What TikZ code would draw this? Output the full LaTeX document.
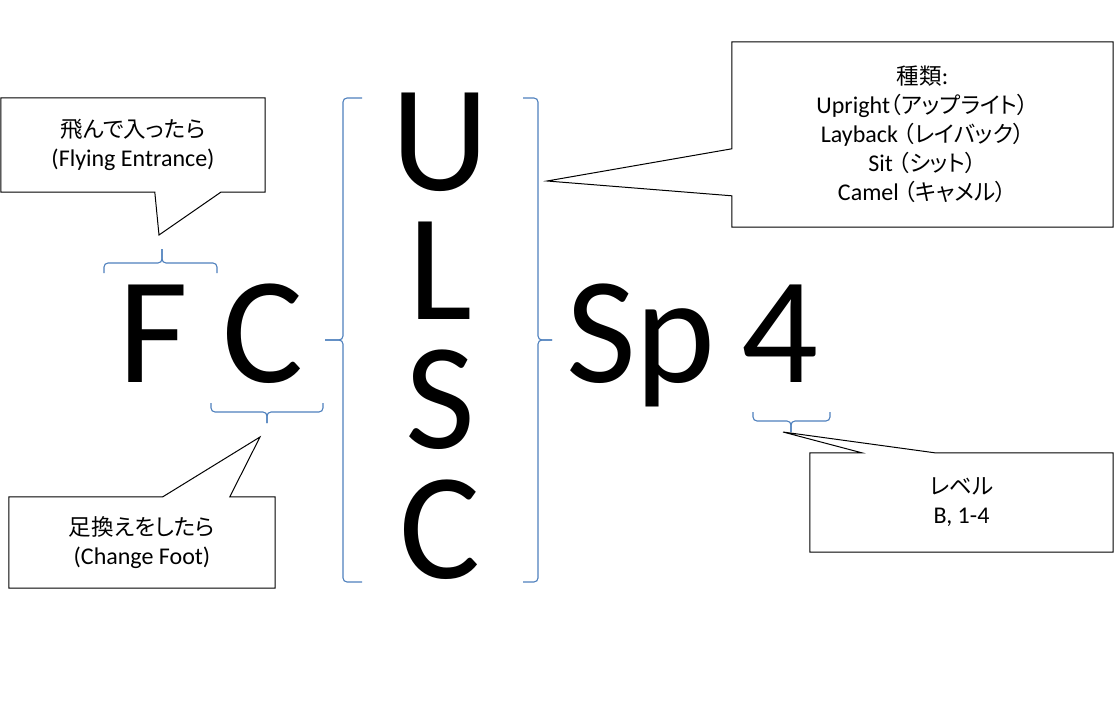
\documentclass[tikz,border=0pt]{standalone}
\usepackage{fontspec}
\setmainfont{Carlito}
\newfontfamily\jpfont[RawFeature=+palt]{Noto Sans CJK JP}
\usetikzlibrary{calc}
\definecolor{bracec}{RGB}{79,129,189}
\newcommand\jtext[1]{{\jpfont\fontsize{22.5}{29}\selectfont #1}}
\begin{document}
\begin{tikzpicture}[x=1pt,y=-1pt,
  brc/.style={draw=bracec, line width=1.1pt, rounded corners=4pt},
  callout/.style={draw=black, line width=1pt, line join=miter},
  cbox/.style={inner sep=0pt, align=center, font=\fontsize{24}{29}\selectfont},
  big/.style={inner sep=0pt, anchor=base, text height=97pt, text depth=0pt,
    font=\fontsize{152}{152}\selectfont}]
\useasboundingbox[fill=white] (0,0) rectangle (1114,709);

% big letters
\node[big] (F) at (153,382) {F};
\node[big] (C) at (263,382) {C};
\node[big] (U) at (440,190) {U};
\node[big] (L) at (440,319) {L};
\node[big] (S) at (440,448) {S};
\node[big] (C2) at (440,578) {C};
\node[big] (Sp) at (641,382) {Sp};
\node[big] (four) at (780,382) {4};

% braces
\draw[brc] (104,273) -- (104,263) -- (162,263) -- (162,249);
\draw[brc] (217,273) -- (217,263) -- (162,263) -- (162,249);
\draw[brc] (211,403) -- (211,412) -- (267,412) -- (267,423);
\draw[brc] (323,403) -- (323,412) -- (267,412) -- (267,423);
\draw[brc] (753,412) -- (753,421) -- (791,421) -- (791,432);
\draw[brc] (830,412) -- (830,421) -- (791,421) -- (791,432);
\draw[brc] (362,98) -- (343,98) -- (343,340) -- (325,340);
\draw[brc] (362,582) -- (343,582) -- (343,340) -- (325,340);
\draw[brc] (523,98) -- (538,98) -- (538,340) -- (552,340);
\draw[brc] (523,582) -- (538,582) -- (538,340) -- (552,340);

% callout tips
\coordinate (tipF) at (159,235);
\coordinate (tipU) at (547,181);
\coordinate (tipC) at (260,437);
\coordinate (tip4) at (783,432);

% callout boxes
\node[cbox, minimum width=264pt, minimum height=94pt] (fe) at (133,145)
  {\jtext{飛んで入ったら}\\(Flying Entrance)};
\node[cbox, minimum width=381pt, minimum height=185pt] (tr) at (922.5,134.5)
  {\jtext{種類}:\\Upright\jtext{（アップライト）}\\Layback \jtext{（レイバック）}\\Sit \jtext{（シット）}\\Camel \jtext{（キャメル）}};
\node[cbox, minimum width=266pt, minimum height=91pt] (cf) at (142,542.5)
  {\jtext{足換えをしたら}\\(Change Foot)};
\node[cbox, minimum width=303pt, minimum height=99pt] (lv) at (961.5,502.5)
  {\jtext{レベル}\\B, 1-4};

\draw[callout] (fe.north west) -- (fe.north east) -- (fe.south east)
  -- ($(fe.south west)+(220,0)$) -- (tipF) -- ($(fe.south west)+(154,0)$)
  -- (fe.south west) -- cycle;
\draw[callout] (tr.north west) -- (tr.north east) -- (tr.south east)
  -- (tr.south west) -- ($(tr.north west)+(0,154)$) -- (tipU)
  -- ($(tr.north west)+(0,107)$) -- cycle;
\draw[callout] (cf.north west) -- ($(cf.north west)+(154,0)$) -- (tipC)
  -- ($(cf.north west)+(221,0)$) -- (cf.north east) -- (cf.south east)
  -- (cf.south west) -- cycle;
\draw[callout] (lv.north west) -- ($(lv.north west)+(52,0)$) -- (tip4)
  -- ($(lv.north west)+(125,0)$) -- (lv.north east) -- (lv.south east)
  -- (lv.south west) -- cycle;
\end{tikzpicture}
\end{document}
